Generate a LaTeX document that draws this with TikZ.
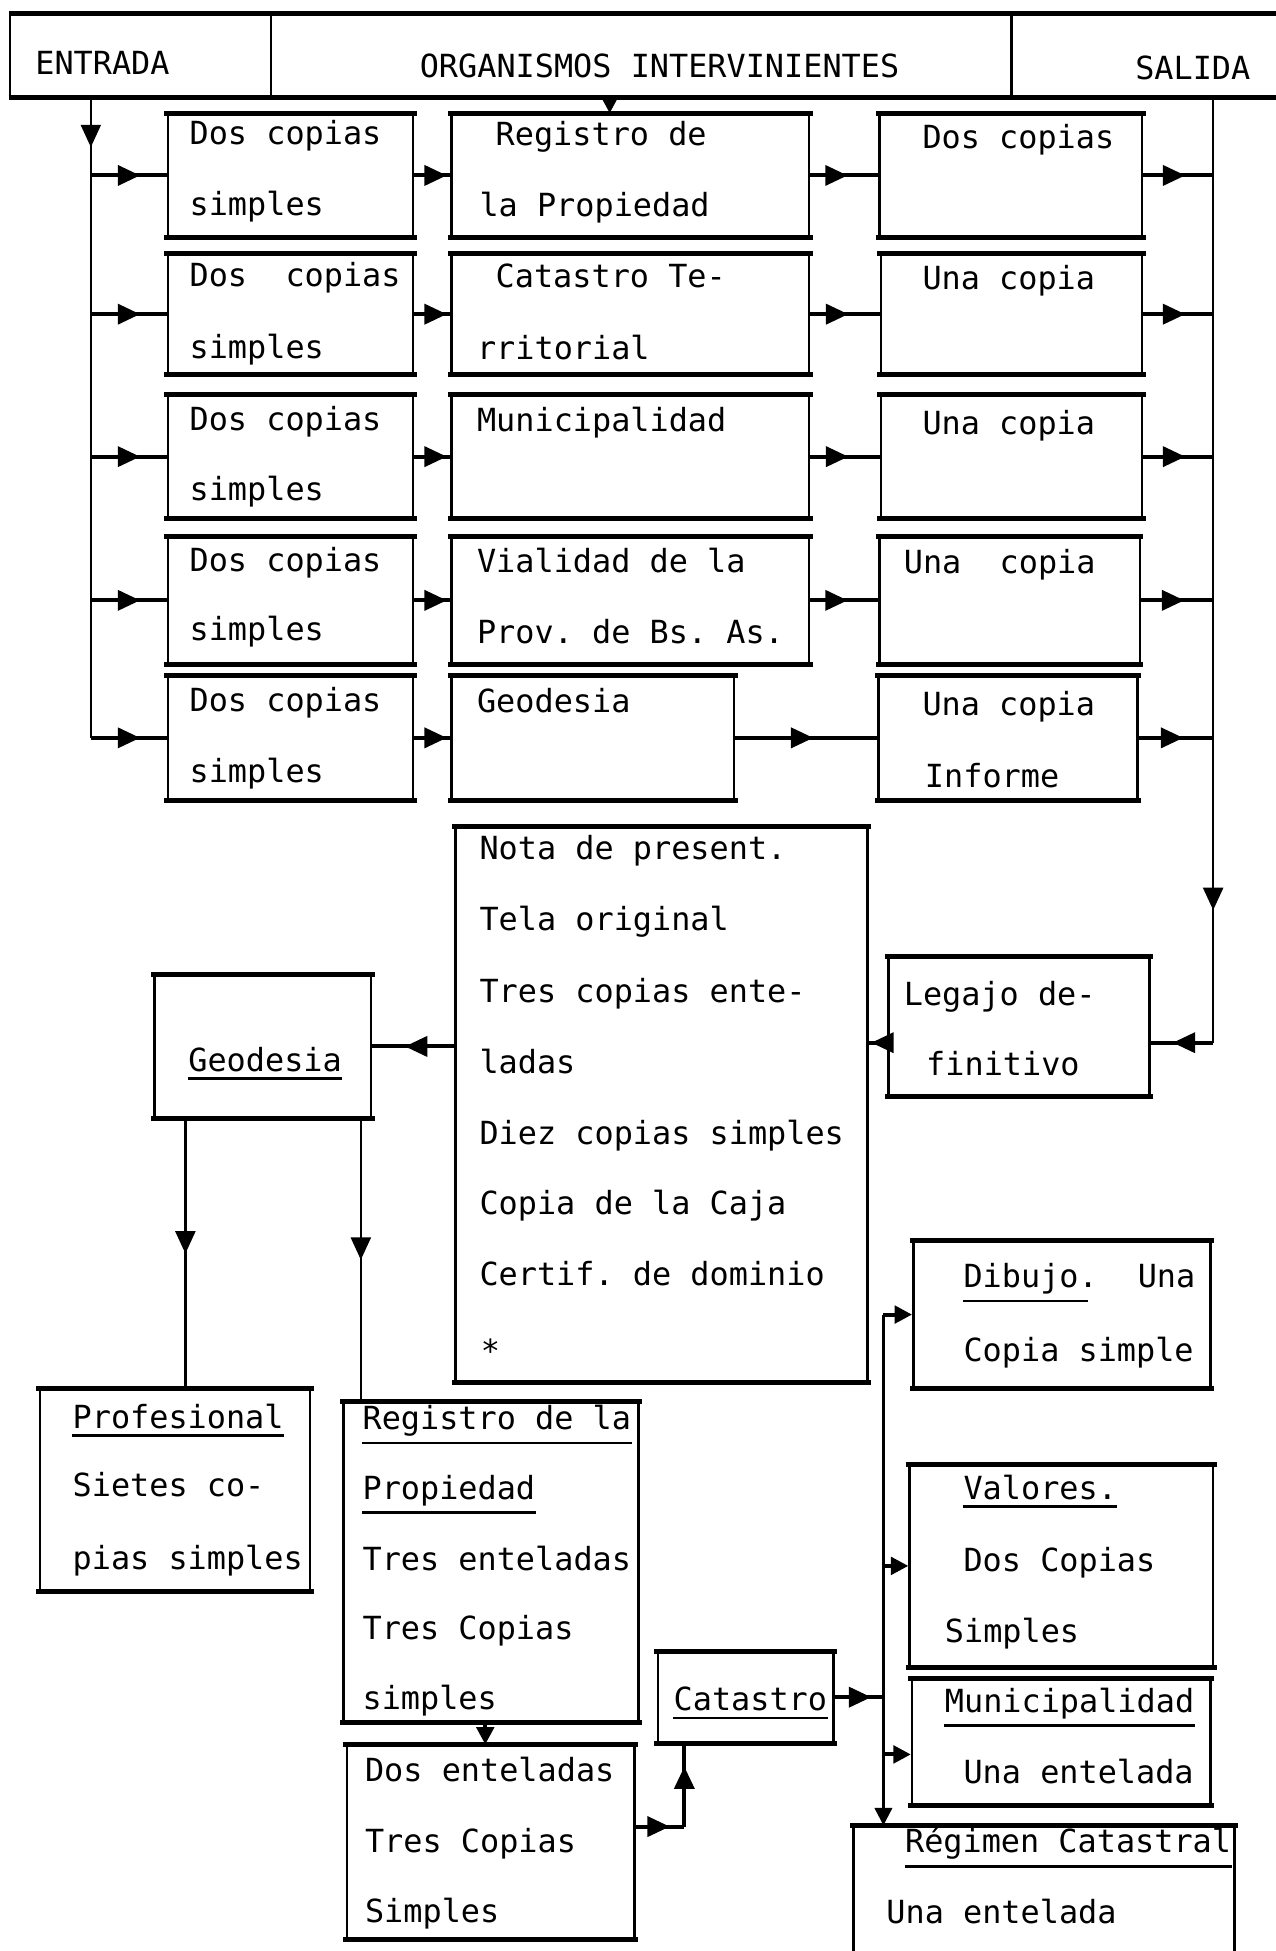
\documentclass[tikz,border=0pt]{standalone}
\usepackage{fontspec}
\setmonofont{DejaVu Sans Mono}
\usetikzlibrary{arrows.meta,decorations.markings,fit}
\tikzset{
  box/.style={draw, line width=1pt, inner sep=0pt, rectangle},
  txt/.style={anchor=base west, inner sep=0pt, font=\ttfamily\fontsize{12.8}{14}\selectfont},
  conn/.style={line width=1.6pt},
  bus/.style={line width=1pt},
  midarrow/.style={postaction={decorate}, decoration={markings, mark=at position #1 with {\arrow{Triangle[length=9pt,width=8pt]}}}},
  endarrow/.style={-{Triangle[length=7pt,width=7pt]}},
  uline/.style={line width=1pt},
}
\begin{document}
\begin{tikzpicture}[x=0.5pt,y=-0.5pt]
\useasboundingbox (0,0) rectangle (1025,1568);
% header
\node[box, fit={(8,12)(218,77)}] (hin) {};
\node[box, fit={(218,12)(813,77)}] (hmid) {};
\node[box, fit={(813,12)(1045,77)}] (hout) {};
\draw[line width=2pt] (hin.north west) -- (hout.north east) (hin.south west) -- (hout.south east);
\node[txt] (thin) at (28,60) {ENTRADA};
\node[txt] (thmid) at (337,62) {ORGANISMOS INTERVINIENTES};
\node[txt] (thout) at (912,64) {SALIDA};

% grid of boxes
\node[box, fit={(135,92)(332,190)}] (r1a) {};
\node[box, fit={(363,92)(650,190)}] (r1b) {};
\node[box, fit={(707,92)(918,190)}] (r1c) {};
\node[box, fit={(135,205)(332,300)}] (r2a) {};
\node[box, fit={(363,205)(650,300)}] (r2b) {};
\node[box, fit={(708,205)(918,300)}] (r2c) {};
\node[box, fit={(135,318)(332,416)}] (r3a) {};
\node[box, fit={(363,318)(650,416)}] (r3b) {};
\node[box, fit={(708,318)(918,416)}] (r3c) {};
\node[box, fit={(135,432)(332,533)}] (r4a) {};
\node[box, fit={(363,432)(650,533)}] (r4b) {};
\node[box, fit={(707,432)(916,533)}] (r4c) {};
\node[box, fit={(135,544)(332,642)}] (r5a) {};
\node[box, fit={(363,544)(590,642)}] (r5b) {};
\node[box, fit={(706,544)(914,642)}] (r5c) {};

% lower boxes
\node[box, fit={(366,665)(697,1110)}] (nota) {};
\node[box, fit={(714,770)(924,880)}] (leg) {};
\node[box, fit={(124,784)(298,898)}] (geo) {};
\node[box, fit={(32,1117)(249,1278)}] (prof) {};
\node[box, fit={(276,1127)(513,1383)}] (reg) {};
\node[box, fit={(279,1403)(510,1558)}] (dent) {};
\node[box, fit={(529,1328)(670,1400)}] (cat) {};
\node[box, fit={(734,998)(973,1115)}] (dib) {};
\node[box, fit={(731,1178)(975,1339)}] (val) {};
\node[box, fit={(733,1350)(973,1450)}] (mun) {};
\node[box, fit={(686,1468)(992,1590)}] (rc) {};

\foreach \n in {r1a,r1b,r1c,r2a,r2b,r2c,r3a,r3b,r3c,r4a,r4b,r4c,r5a,r5b,r5c,nota,leg,geo,prof,reg,dent,cat,dib,val,mun,rc}
  \draw[line width=2pt, line cap=rect] (\n.north west) -- (\n.north east) (\n.south west) -- (\n.south east);

% grid texts
\node[txt] (t1a1) at (152,116) {Dos copias};
\node[txt] (t2a1) at (152,230) {Dos\ \ copias};
\node[txt] (t3a1) at (152,346) {Dos copias};
\node[txt] (t4a1) at (152,459) {Dos copias};
\node[txt] (t5a1) at (152,572) {Dos copias};
\node[txt] (t1a2) at (152,173) {simples};
\node[txt] (t2a2) at (152,288) {simples};
\node[txt] (t3a2) at (152,402) {simples};
\node[txt] (t4a2) at (152,515) {simples};
\node[txt] (t5a2) at (152,629) {simples};
\node[txt] (t1b1) at (398,117) {Registro de};
\node[txt] (t1b2) at (385,174) {la Propiedad};
\node[txt] (t2b1) at (398,231) {Catastro Te-};
\node[txt] (t2b2) at (383,289) {rritorial};
\node[txt] (t3b1) at (383,347) {Municipalidad};
\node[txt] (t4b1) at (383,460) {Vialidad de la};
\node[txt] (t4b2) at (383,517) {Prov. de Bs. As.};
\node[txt] (t5b1) at (383,573) {Geodesia};
\node[txt] (t1c1) at (741,119) {Dos copias};
\node[txt] (t2c1) at (741,233) {Una copia};
\node[txt] (t3c1) at (741,349) {Una copia};
\node[txt] (t4c1) at (726,461) {Una\ \ copia};
\node[txt] (t5c1) at (741,575) {Una copia};
\node[txt] (t5c2) at (743,633) {Informe};

% lower texts
\node[txt] (n1) at (385,691) {Nota de present.};
\node[txt] (n2) at (385,748) {Tela original};
\node[txt] (n3) at (385,806) {Tres copias ente-};
\node[txt] (n4) at (385,863) {ladas};
\node[txt] (n5) at (385,920) {Diez copias simples};
\node[txt] (n6) at (385,976) {Copia de la Caja};
\node[txt] (n7) at (385,1033) {Certif. de dominio};
\node[txt] (n8) at (386,1095) {*};
\node[txt] (l1) at (726,808) {Legajo de-};
\node[txt] (l2) at (744,864) {finitivo};
\node[txt] (g1t) at (151,861) {Geodesia};
\node[txt] (p1) at (58,1148) {Profesional};
\node[txt] (p2) at (58,1203) {Sietes co-};
\node[txt] (p3) at (58,1261) {pias simples};
\node[txt] (q1) at (291,1149) {Registro de la};
\node[txt] (q2) at (291,1205) {Propiedad};
\node[txt] (q3) at (291,1262) {Tres enteladas};
\node[txt] (q4) at (291,1318) {Tres Copias};
\node[txt] (q5) at (291,1374) {simples};
\node[txt] (d1) at (293,1432) {Dos enteladas};
\node[txt] (d2) at (293,1489) {Tres Copias};
\node[txt] (d3) at (293,1545) {Simples};
\node[txt] (c1) at (541,1375) {Catastro};
\node[txt] (b1) at (774,1035) {Dibujo.};
\node[txt] (b2) at (914,1035) {Una};
\node[txt] (b3) at (774,1094) {Copia simple};
\node[txt] (v1) at (774,1205) {Valores.};
\node[txt] (v2) at (774,1263) {Dos Copias};
\node[txt] (v3) at (759,1320) {Simples};
\node[txt] (m1) at (759,1376) {Municipalidad};
\node[txt] (m2) at (774,1433) {Una entelada};
\node[txt] (rc1) at (727,1489) {Régimen Catastral};
\node[txt] (rc2) at (712,1546) {Una entelada};

% underlines
\foreach \n in {g1t,p1,q1,q2,c1,m1,rc1}
  \draw[uline] ([yshift=-2.5pt]\n.south west) -- ([yshift=-2.5pt]\n.south east);
\draw[uline] ([yshift=-2.5pt]b1.south west) -- ([yshift=-2.5pt,xshift=-4pt]b1.south east);
\draw[uline] ([yshift=-2.5pt]v1.south west) -- ([yshift=-2.5pt]v1.south east);

% coordinates
\coordinate (ein) at (73,77);
\coordinate (eout) at (975,77);
\coordinate (hr) at (490,77);
\coordinate (sturn) at (975,838);
\coordinate (gl) at (149,0);
\coordinate (gr) at (290,0);
\coordinate (rd) at (390,0);
\coordinate (dc) at (550,1468);
\coordinate (bt) at (710,1056.5);
\coordinate (mb) at (710,1410);

% header to Registro
\draw[conn, endarrow] (hr) -- (hr |- r1b.north);

% entrada bus
\draw[bus, midarrow=0.08] (ein) -- (ein |- r5a.west);
\draw[conn, midarrow=0.65] (ein |- r5a.west) -- (r5a.west);
\foreach \r in {r1a,r2a,r3a,r4a}
  \draw[conn, midarrow=0.65] (ein |- \r.west) -- (\r.west);

% row connectors
\foreach \a/\b in {r1a/r1b,r2a/r2b,r3a/r3b,r4a/r4b,r5a/r5b}
  \draw[conn, midarrow=0.9] (\a.east) -- (\b.west);
\foreach \a/\b in {r1b/r1c,r2b/r2c,r3b/r3c,r4b/r4c}
  \draw[conn, midarrow=0.55] (\a.east) -- (\b.west);
\draw[conn, midarrow=0.55] (r5b.east) -- (r5c.west);
\foreach \c in {r1c,r2c,r3c,r4c,r5c}
  \draw[conn, midarrow=0.6] (\c.east) -- (\c.east -| eout);

% salida bus
\draw[bus, midarrow=0.86] (eout) -- (sturn);
\draw[conn, midarrow=0.65] (sturn) -- (sturn -| leg.east);
\draw[conn, midarrow=0.85] (leg.west |- sturn) -- (nota.east |- sturn);
\draw[conn, midarrow=0.6] (nota.west |- geo.east) -- (geo.east);

% geodesia down
\draw[bus, midarrow=0.5] (gl |- geo.south) -- (gl |- prof.north);
\draw[bus, midarrow=0.5] (gr |- geo.south) -- (gr |- reg.north);

% registro to dos enteladas
\draw[conn, endarrow] (rd |- reg.south) -- (rd |- dent.north);
\draw[conn, midarrow=0.7] (dent.east |- dc) -- (dc);
\draw[conn, midarrow=0.72] (dc) -- (dc |- cat.south);

% catastro to bus
\draw[conn, midarrow=0.75] (cat.east) -- (cat.east -| bt);
\draw[bus, endarrow] (bt) -- (bt |- rc.north);
\draw[conn, endarrow] (bt) -- (dib.west);
\draw[conn, endarrow] (val.west -| bt) -- (val.west);
\draw[conn, endarrow] (mb) -- (mb -| mun.west);
\end{tikzpicture}
\end{document}
